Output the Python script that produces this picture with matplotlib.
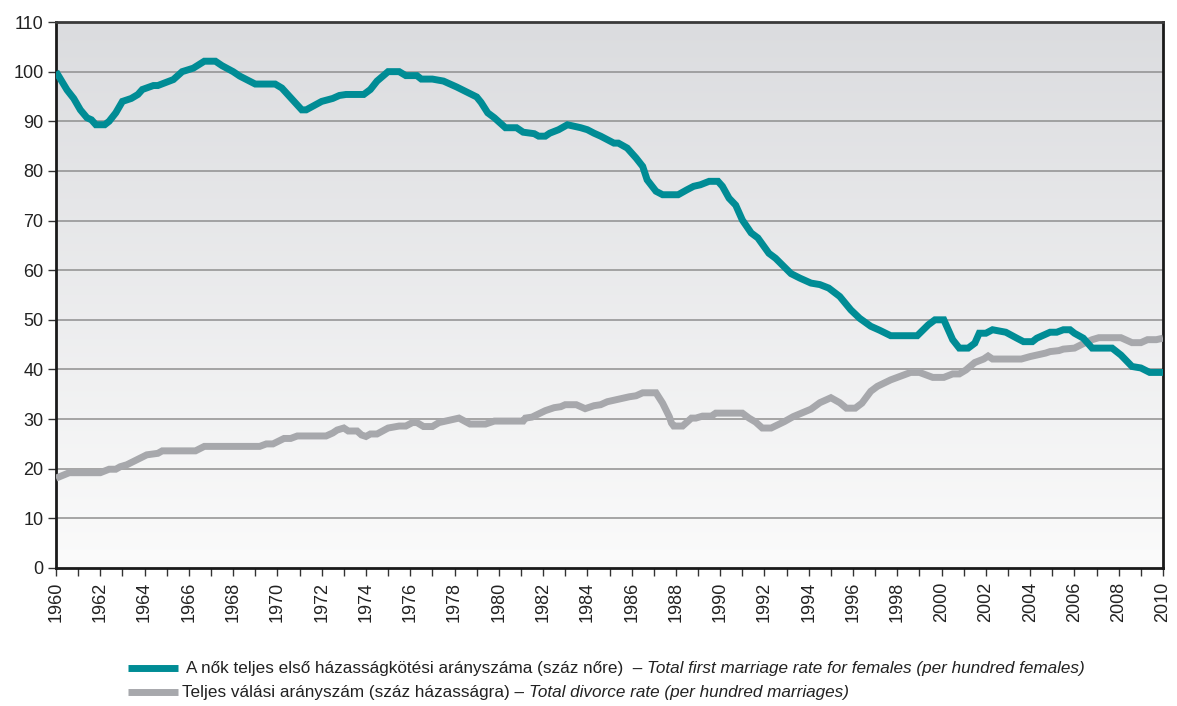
import numpy as np
import matplotlib
matplotlib.use("Agg")
import matplotlib.pyplot as plt
from matplotlib.ticker import FixedLocator
from matplotlib.lines import Line2D
from matplotlib.colors import LinearSegmentedColormap

plt.rcParams['font.family'] = ['Liberation Sans', 'DejaVu Sans']

# ---- data ----
marriage_x = [1960.0, 1960.5, 1960.8, 1961.1, 1961.4, 1961.6, 1961.8, 1962.2, 1962.4, 1962.7,
              1963.0, 1963.4, 1963.7, 1963.9, 1964.4, 1964.6, 1965.3, 1965.7, 1966.2, 1966.7,
              1967.2, 1967.5, 1968.0, 1968.3, 1969.0, 1969.9, 1970.2, 1971.1, 1971.3, 1972.0,
              1972.5, 1972.8, 1973.1, 1973.9, 1974.2, 1974.5, 1975.0, 1975.5, 1975.8, 1976.3,
              1976.5, 1977.0, 1977.5, 1978.1, 1979.0, 1979.2, 1979.5, 1979.8, 1980.3, 1980.8,
              1981.1, 1981.6, 1981.8, 1982.1, 1982.3, 1982.7, 1983.1, 1983.7, 1984.0, 1984.3,
              1984.6, 1985.2, 1985.4, 1985.8, 1986.2, 1986.5, 1986.7, 1987.1, 1987.4, 1988.1,
              1988.5, 1988.8, 1989.1, 1989.5, 1989.9, 1990.1, 1990.4, 1990.7, 1991.0, 1991.4,
              1991.7, 1992.2, 1992.5, 1993.2, 1993.6, 1994.1, 1994.5, 1994.9, 1995.4, 1995.9,
              1996.3, 1996.8, 1997.2, 1997.7, 1998.9, 1999.4, 1999.7, 2000.1, 2000.2, 2000.5,
              2000.8, 2001.2, 2001.5, 2001.7, 2002.0, 2002.3, 2002.9, 2003.4, 2003.7, 2004.1,
              2004.3, 2004.9, 2005.2, 2005.5, 2005.8, 2006.0, 2006.4, 2006.8, 2007.7, 2008.1,
              2008.6, 2009.0, 2009.4, 2010.0]
marriage_y = [100.0, 96.3, 94.6, 92.3, 90.7, 90.3, 89.3, 89.3, 90.0, 91.7,
              94.0, 94.6, 95.4, 96.4, 97.2, 97.2, 98.4, 100.0, 100.7, 102.1,
              102.1, 101.2, 100.0, 99.1, 97.5, 97.5, 96.7, 92.3, 92.3, 94.0,
              94.6, 95.2, 95.4, 95.4, 96.4, 98.1, 100.0, 100.0, 99.2, 99.2,
              98.5, 98.5, 98.1, 96.9, 94.9, 93.8, 91.7, 90.7, 88.7, 88.7,
              87.8, 87.5, 87.0, 87.0, 87.6, 88.3, 89.3, 88.7, 88.3, 87.6,
              87.0, 85.6, 85.6, 84.6, 82.6, 80.9, 78.2, 75.9, 75.2, 75.2,
              76.2, 76.9, 77.2, 77.9, 77.9, 76.9, 74.5, 73.1, 70.1, 67.5,
              66.5, 63.4, 62.4, 59.3, 58.4, 57.4, 57.1, 56.4, 54.7, 52.0,
              50.3, 48.7, 47.9, 46.8, 46.8, 49.0, 50.0, 50.0, 49.0, 46.0,
              44.3, 44.3, 45.3, 47.3, 47.3, 48.0, 47.5, 46.3, 45.6, 45.6,
              46.3, 47.5, 47.5, 48.0, 48.0, 47.3, 46.3, 44.3, 44.3, 42.9,
              40.6, 40.3, 39.4, 39.4]

divorce_x = [1960.0, 1960.6, 1962.0, 1962.4, 1962.7, 1962.9, 1963.2, 1964.1, 1964.6, 1964.8,
             1966.3, 1966.7, 1969.2, 1969.5, 1969.8, 1970.3, 1970.6, 1970.9, 1972.2, 1972.5,
             1972.7, 1973.0, 1973.2, 1973.6, 1973.8, 1974.0, 1974.2, 1974.5, 1975.0, 1975.5,
             1975.8, 1976.1, 1976.3, 1976.6, 1977.0, 1977.3, 1977.8, 1978.2, 1978.7, 1979.4,
             1979.8, 1981.1, 1981.2, 1981.5, 1982.1, 1982.5, 1982.8, 1983.0, 1983.5, 1983.9,
             1984.3, 1984.6, 1984.9, 1985.3, 1985.9, 1986.2, 1986.5, 1987.1, 1987.4, 1987.7,
             1987.8, 1987.9, 1988.3, 1988.7, 1988.9, 1989.2, 1989.6, 1989.8, 1991.0, 1991.3,
             1991.6, 1991.9, 1992.3, 1992.9, 1993.3, 1994.1, 1994.5, 1995.0, 1995.4, 1995.7,
             1996.1, 1996.4, 1996.8, 1997.1, 1997.7, 1998.3, 1998.6, 1999.0, 1999.6, 2000.1,
             2000.5, 2000.8, 2001.1, 2001.5, 2001.9, 2002.1, 2002.3, 2003.6, 2004.0, 2004.3,
             2004.7, 2004.9, 2005.3, 2005.5, 2006.0, 2006.4, 2006.8, 2007.1, 2008.1, 2008.6,
             2009.0, 2009.3, 2009.7, 2010.0]
divorce_y = [18.1, 19.2, 19.2, 19.9, 19.9, 20.4, 20.8, 22.8, 23.1, 23.6,
             23.6, 24.5, 24.5, 25.0, 25.0, 26.1, 26.1, 26.6, 26.6, 27.2,
             27.8, 28.2, 27.6, 27.6, 26.8, 26.5, 27.0, 27.0, 28.2, 28.6,
             28.6, 29.3, 29.3, 28.5, 28.5, 29.3, 29.8, 30.2, 29.0, 29.0,
             29.6, 29.6, 30.2, 30.4, 31.7, 32.3, 32.5, 32.9, 32.9, 32.1,
             32.7, 32.9, 33.5, 33.9, 34.5, 34.7, 35.3, 35.3, 33.2, 30.5,
             29.2, 28.6, 28.6, 30.2, 30.2, 30.6, 30.6, 31.2, 31.2, 30.2,
             29.4, 28.2, 28.2, 29.5, 30.5, 32.0, 33.3, 34.3, 33.3, 32.2,
             32.2, 33.2, 35.6, 36.6, 37.9, 38.9, 39.4, 39.4, 38.4, 38.4,
             39.1, 39.1, 39.9, 41.4, 42.1, 42.7, 42.1, 42.1, 42.6, 42.9,
             43.3, 43.6, 43.8, 44.1, 44.3, 45.2, 46.0, 46.4, 46.4, 45.4,
             45.4, 46.0, 46.0, 46.3]

year_ticks = list(range(1960, 2011))
year_labels = [str(y) if y % 2 == 0 else "" for y in year_ticks]
y_ticks = list(range(0, 111, 10))

legend_hu = ["A nők teljes első házasságkötési arányszáma (száz nőre)  – ",
             "Teljes válási arányszám (száz házasságra) – "]
legend_en = ["Total first marriage rate for females (per hundred females)",
             "Total divorce rate (per hundred marriages)"]

teal = "#008c95"
grey = "#a7a8ac"

# ---- figure ----
W, H = 1177, 706
fig = plt.figure(figsize=(W / 100, H / 100), dpi=100)
ax = fig.add_axes([56 / W, 1 - 568 / H, (1163 - 56) / W, (568 - 22) / H])

ax.set_xlim(1960, 2010)
ax.set_ylim(0, 110)

# gradient background
grad = np.linspace(0, 1, 256).reshape(-1, 1)
cmap = LinearSegmentedColormap.from_list("bg", ["#dbdcdf", "#fbfbfb"])
ax.imshow(grad, extent=[0, 1, 0, 1], transform=ax.transAxes, cmap=cmap,
          aspect="auto", zorder=0, origin="upper")

for yv in y_ticks[1:-1]:
    ax.axhline(yv, color="#8f8f8f", lw=1.1, zorder=1)

ax.plot(divorce_x, divorce_y, color=grey, lw=5.0, solid_joinstyle="miter",
        solid_capstyle="butt", zorder=3)
ax.plot(marriage_x, marriage_y, color=teal, lw=5.0, solid_joinstyle="miter",
        solid_capstyle="butt", zorder=4)

for s in ["left", "bottom", "right"]:
    ax.spines[s].set_linewidth(2.0)
    ax.spines[s].set_color("#1a1a1a")
ax.spines["top"].set_linewidth(2.0)
ax.spines["top"].set_color("#3a3a3a")

ax.xaxis.set_major_locator(FixedLocator(year_ticks))
ax.set_xticklabels(year_labels, rotation=90, fontsize=13, color="#222222")
ax.yaxis.set_major_locator(FixedLocator(y_ticks))
ax.set_yticklabels([str(v) for v in y_ticks], fontsize=13, color="#222222")
ax.tick_params(axis="x", direction="out", length=6, width=1, color="#333333", pad=4)
ax.tick_params(axis="y", direction="out", length=6, width=1, color="#333333", pad=3)

# ---- legend (manual, mixed upright/italic) ----
fig.canvas.draw()
renderer = fig.canvas.get_renderer()
rows = [(668, teal, 186), (692, grey, 182)]
for i, (py, col, tx) in enumerate(rows):
    yf = 1 - py / H
    fig.add_artist(Line2D([128 / W, 178 / W], [yf, yf], color=col, lw=5.0,
                          transform=fig.transFigure, solid_capstyle="butt"))
    t1 = fig.text(tx / W, yf, legend_hu[i], fontsize=12.3,
                  va="center", ha="left", color="#222222")
    bb = t1.get_window_extent(renderer)
    fig.text(bb.x1 / W, yf, legend_en[i], fontsize=12.3, style="italic",
             va="center", ha="left", color="#222222")

fig.savefig("out.png", dpi=100)
